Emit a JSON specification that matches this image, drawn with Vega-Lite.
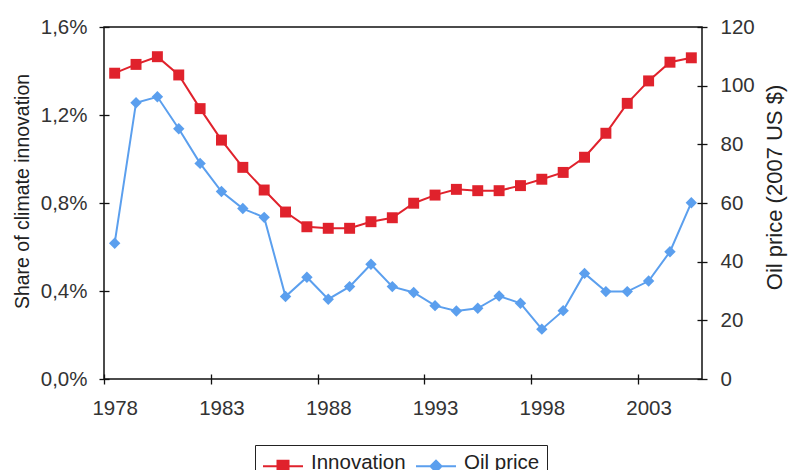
{
  "$schema": "https://vega.github.io/schema/vega-lite/v6.json",
  "width": 598,
  "height": 352,
  "autosize": {"type": "none"},
  "padding": {"left": 104, "top": 27, "right": 86, "bottom": 91},
  "background": "white",
  "config": {
    "font": "Liberation Sans",
    "locale": {"number": {"decimal": ",", "thousands": ".", "grouping": [3], "currency": ["", " €"]}},
    "view": {"stroke": "#111", "strokeWidth": 1.5},
    "axis": {"grid": false, "domain": false, "tickColor": "#111", "tickWidth": 1.3, "labelColor": "#333", "titleColor": "#222", "labelFont": "Liberation Sans", "titleFont": "Liberation Sans", "labelFontSize": 20.5, "titleFontSize": 19.5, "titleFontWeight": "normal"}
  },
  "data": {
    "values": [
      {"year": 1978, "innovation": 0.01390, "oil": 46.3},
      {"year": 1979, "innovation": 0.01430, "oil": 94.2},
      {"year": 1980, "innovation": 0.01465, "oil": 96.2},
      {"year": 1981, "innovation": 0.01382, "oil": 85.3},
      {"year": 1982, "innovation": 0.01229, "oil": 73.5},
      {"year": 1983, "innovation": 0.01086, "oil": 63.9},
      {"year": 1984, "innovation": 0.00962, "oil": 58.1},
      {"year": 1985, "innovation": 0.00859, "oil": 55.1},
      {"year": 1986, "innovation": 0.00759, "oil": 28.1},
      {"year": 1987, "innovation": 0.00692, "oil": 34.7},
      {"year": 1988, "innovation": 0.00685, "oil": 27.2},
      {"year": 1989, "innovation": 0.00685, "oil": 31.5},
      {"year": 1990, "innovation": 0.00715, "oil": 39.1},
      {"year": 1991, "innovation": 0.00733, "oil": 31.5},
      {"year": 1992, "innovation": 0.00799, "oil": 29.5},
      {"year": 1993, "innovation": 0.00836, "oil": 25.0},
      {"year": 1994, "innovation": 0.00862, "oil": 23.2},
      {"year": 1995, "innovation": 0.00856, "oil": 24.1},
      {"year": 1996, "innovation": 0.00856, "oil": 28.3},
      {"year": 1997, "innovation": 0.00879, "oil": 25.8},
      {"year": 1998, "innovation": 0.00908, "oil": 17.0},
      {"year": 1999, "innovation": 0.00939, "oil": 23.3},
      {"year": 2000, "innovation": 0.01008, "oil": 36.0},
      {"year": 2001, "innovation": 0.01117, "oil": 29.8},
      {"year": 2002, "innovation": 0.01253, "oil": 29.8},
      {"year": 2003, "innovation": 0.01355, "oil": 33.4},
      {"year": 2004, "innovation": 0.01440, "oil": 43.4},
      {"year": 2005, "innovation": 0.01460, "oil": 60.1}
    ]
  },
  "encoding": {
    "x": {
      "field": "year",
      "type": "quantitative",
      "title": null,
      "scale": {"domain": [1977.5, 2005.5], "nice": false, "zero": false},
      "axis": {
        "values": [1978, 1983, 1988, 1993, 1998, 2003],
        "format": "d",
        "offset": -5,
        "tickSize": 10,
        "tickOffset": -10.68,
        "labelOffset": 10.68,
        "labelPadding": 14,
        "labelFlush": false,
        "labelOverlap": false
      }
    }
  },
  "layer": [
    {
      "mark": {"type": "line", "strokeWidth": 2, "point": {"shape": "square", "size": 120, "filled": true, "opacity": 1}},
      "encoding": {
        "y": {
          "field": "innovation",
          "type": "quantitative",
          "title": "Share of climate innovation",
          "scale": {"domain": [0, 0.016], "nice": false},
          "axis": {"orient": "left", "values": [0, 0.004, 0.008, 0.012, 0.016], "format": ".1%", "offset": -5, "tickSize": 10, "labelPadding": 12, "titleX": -81, "titleY": 164, "titleAngle": 270, "titleAlign": "center", "titleBaseline": "alphabetic"}
        },
        "color": {
          "datum": "Innovation",
          "type": "nominal",
          "scale": {"domain": ["Innovation", "Oil price"], "range": ["#E0222C", "#5B9FEE"]},
          "legend": {
            "orient": "none",
            "legendX": 151,
            "legendY": 418,
            "direction": "horizontal",
            "title": null,
            "strokeColor": "#222",
            "padding": 7,
            "labelFont": "Liberation Sans",
            "labelFontSize": 20.5,
            "labelColor": "#222",
            "symbolSize": 400,
            "symbolStrokeWidth": 2,
            "columnPadding": 6,
            "labelOffset": 27,
            "encode": {
              "symbols": {
                "enter": {
                  "shape": {"signal": "datum.value === 'Innovation' ? 'M-1,0.3H3M0.45,-0.25H1.55V0.85H0.45Z' : 'M-1,0.3H3M0.45,0.3L1,-0.25L1.55,0.3L1,0.85Z'"},
                  "fill": {"scale": "color", "field": "value"},
                  "stroke": {"scale": "color", "field": "value"},
                  "strokeWidth": {"value": 2},
                  "opacity": {"value": 1},
                  "strokeOpacity": {"value": 1},
                  "fillOpacity": {"value": 1}
                },
                "update": {
                  "shape": {"signal": "datum.value === 'Innovation' ? 'M-1,0.3H3M0.45,-0.25H1.55V0.85H0.45Z' : 'M-1,0.3H3M0.45,0.3L1,-0.25L1.55,0.3L1,0.85Z'"},
                  "fill": {"scale": "color", "field": "value"},
                  "stroke": {"scale": "color", "field": "value"},
                  "strokeWidth": {"value": 2},
                  "opacity": {"value": 1},
                  "strokeOpacity": {"value": 1},
                  "fillOpacity": {"value": 1}
                }
              }
            }
          }
        }
      }
    },
    {
      "mark": {"type": "line", "strokeWidth": 2, "point": {"shape": "diamond", "size": 130, "filled": true, "opacity": 1}},
      "encoding": {
        "y": {
          "field": "oil",
          "type": "quantitative",
          "title": "Oil price (2007 US $)",
          "scale": {"domain": [0, 120], "nice": false},
          "axis": {"orient": "right", "values": [0, 20, 40, 60, 80, 100, 120], "offset": -5, "tickSize": 10, "labelPadding": 13, "titleAngle": 270, "titleFontSize": 22, "titleX": 84, "titleY": 160, "titleAlign": "center", "titleBaseline": "alphabetic"}
        },
        "color": {"datum": "Oil price", "type": "nominal"}
      }
    }
  ],
  "resolve": {"scale": {"y": "independent"}}
}
